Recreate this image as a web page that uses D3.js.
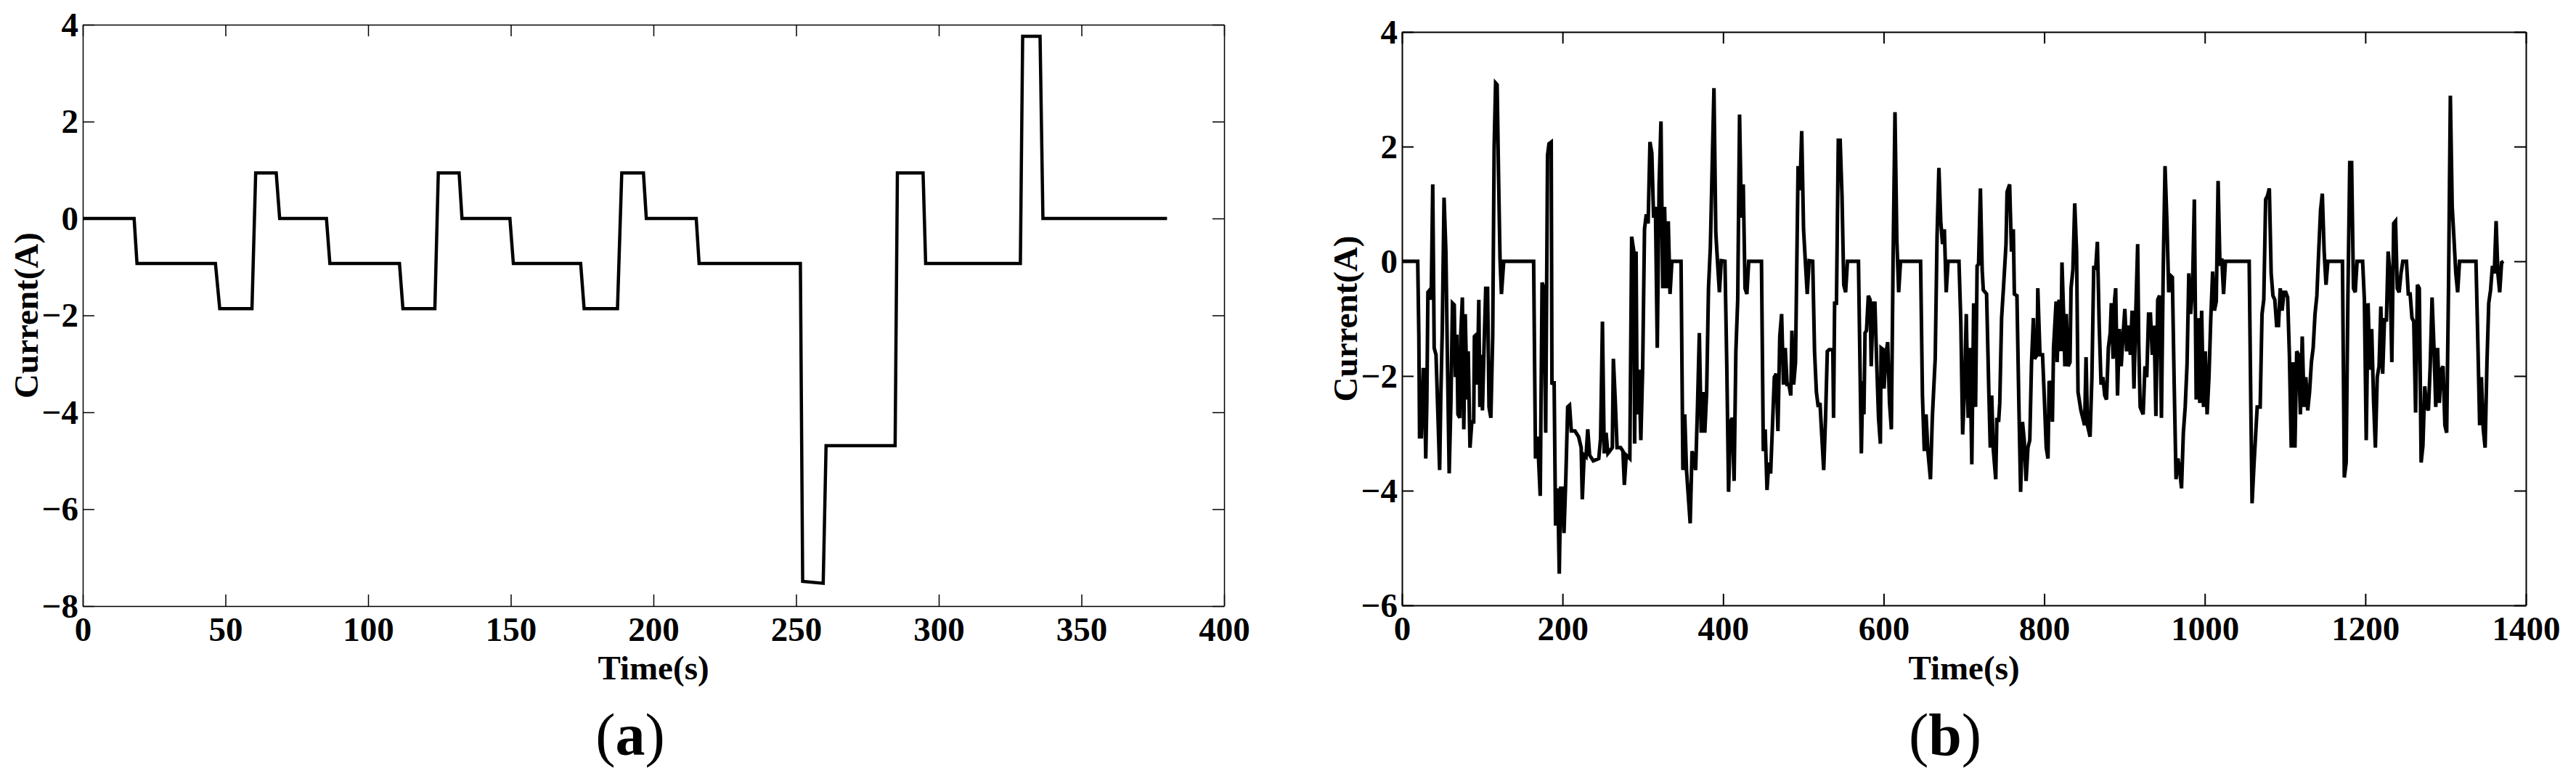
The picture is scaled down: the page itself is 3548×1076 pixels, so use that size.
<!DOCTYPE html>
<html>
<head>
<meta charset="utf-8">
<title>Current profiles</title>
<script src="https://cdnjs.cloudflare.com/ajax/libs/d3/7.8.5/d3.min.js"></script>
<style>
  html, body { margin: 0; padding: 0; background: #fff; }
  svg { display: block; }
  text { font-family: "Liberation Serif", "Times New Roman", serif; }
</style>
</head>
<body>
<svg id="chart" width="3548" height="1076"></svg>
<script>
'use strict';

// panel (a): step current profile
var timeA = [0, 18, 19, 46.5, 48, 59.3, 60.6, 67.8, 69, 85.4, 86.6, 111, 112.2,
    123.4, 124.6, 131.9, 132.9, 149.7, 150.9, 174.5, 175.7, 187.4, 188.9, 196.5,
    197.5, 215, 216, 251.5, 252.3, 259.5, 260.5, 284.7, 285.5, 294.5, 295.4,
    328.6, 329.4, 335.5, 336.5, 380];
var currentA = [0, 0, -0.93, -0.93, -1.86, -1.86, 0.94, 0.94, 0, 0, -0.93, -0.93, -1.86,
    -1.86, 0.94, 0.94, 0, 0, -0.93, -0.93, -1.86, -1.86, 0.94, 0.94,
    0, 0, -0.93, -0.93, -7.49, -7.53, -4.69, -4.69, 0.94, 0.94, -0.93,
    -0.93, 3.76, 3.76, 0, 0];

// panel (b): dynamic current profile
var timeB = [0, 19.6, 21, 21.9, 24.1, 26.4, 27.8, 29.6, 31, 32.3, 34.6, 36.4, 38.3, 40.1,
    42.4, 46.9, 48.3, 50.1, 52.4, 54.7, 56.5, 58.8, 61, 62.9, 65.1, 66.5, 68.3, 69.7,
    72, 73.3, 75.2, 77, 78.8, 81.1, 82.5, 84.7, 87, 89.3, 90.2, 92.5, 93.8, 95.7, 97,
    98.9, 100.2, 102.1, 104.3, 106.6, 108.4, 110.7, 113, 114.8, 116.6, 118.5, 120.3,
    122.1, 123.9, 126.7, 164, 166.3, 168.6, 169.9, 172.2, 174.5, 176.8, 179, 181.3,
    183.1, 185.9, 186.8, 189.5, 191.3, 194.1, 195.9, 197.7, 200, 201.8, 204.1, 206.4,
    208.7, 210.9, 215.5, 220, 223.2, 224.6, 226.9, 229.2, 231.4, 233.7, 238.3, 245.1,
    247.4, 249.7, 251.9, 254.2, 256.5, 258.8, 262, 263.3, 265.6, 267.9, 272.4, 275.2,
    277, 279.3, 283.8, 286.1, 288.8, 289.8, 291.6, 292.9, 295.2, 297.5, 299.8, 302.1,
    304.3, 306.6, 308.9, 311.2, 313.4, 315.7, 318, 320.3, 322.6, 324.8, 327.1, 329.4,
    331.7, 333.9, 336.2, 347.6, 349.9, 352.2, 354.4, 359, 361.3, 363.6, 365.8, 368.1,
    370.4, 372.7, 374.9, 377.2, 379.5, 381.8, 384.1, 386.3, 388.6, 390.9, 393.2, 395.4,
    397.7, 402.3, 404.6, 406.8, 409.1, 411.4, 413.7, 415.9, 418.2, 420.5, 422.8, 425.1,
    427.3, 429.6, 431.9, 447.8, 450.1, 452.4, 454.7, 456.9, 459.2, 461.5, 463.8, 466.1,
    468.3, 470.6, 472.9, 475.2, 477.4, 479.7, 482, 484.3, 485.7, 487.9, 490.2, 492,
    493.4, 495.7, 497.9, 500.2, 502.5, 504.8, 507.1, 511.6, 513.9, 516.2, 518.5, 520.7,
    523, 525.3, 527.6, 529.8, 532.1, 536.7, 537.6, 538.9, 541.2, 543.5, 545.8, 548.1,
    550.3, 552.6, 554.9, 568.6, 570.8, 572.2, 574, 575.4, 576.8, 578.6, 580.9, 583.1,
    584.5, 586.8, 589.1, 591.3, 593.6, 595.9, 596.8, 599.5, 600.5, 602.7, 605, 607.3,
    609.6, 611.8, 614.1, 616.4, 618.7, 621, 646, 648.3, 650.6, 652.8, 655.1, 658.3,
    660.6, 664.2, 666.5, 668.8, 671.1, 673.3, 675.6, 677.9, 680.2, 693.8, 696.1, 698.4,
    700.7, 702.9, 705.2, 707.5, 709.8, 712.1, 714.5, 716.4, 718.2, 720.5, 722.7, 724.1,
    728.2, 731, 732.8, 734.6, 736.4, 739.6, 741, 743.2, 744.6, 746.9, 749.2, 752.4,
    753.7, 756.9, 759.2, 761.5, 762.8, 766, 768.3, 770.6, 772.9, 775.1, 777.4, 779.7,
    782, 784.2, 786.5, 787.9, 791.1, 792, 794.7, 797.9, 800.2, 802.5, 804.7, 806.1,
    808.4, 810.2, 811.6, 814.8, 816.1, 818.4, 820.7, 822.1, 824.3, 825.7, 827.5, 829.8,
    832.1, 833.4, 835.7, 838, 840.3, 842.1, 845.7, 850.3, 852.1, 853.9, 857.1, 859.4,
    861.7, 864, 866.2, 868.5, 870.8, 873.1, 875.4, 877.6, 879.9, 882.2, 883.6, 885.8,
    887.7, 889, 891.3, 893.6, 895.9, 898.1, 900.4, 902.7, 905, 907.3, 909.5, 911.8,
    914.1, 916.4, 917.7, 919.5, 923.2, 925.5, 927.7, 930, 932.3, 934.6, 936.9, 939.1,
    941.4, 943.7, 946, 948.3, 950.5, 952.8, 955.1, 957.4, 959.6, 961.9, 964.2, 966.5,
    968.8, 971, 973.3, 975.6, 977.9, 980.1, 982.4, 984.7, 987, 989.3, 991.5, 993.8,
    996.1, 998.4, 1000.6, 1002.9, 1005.2, 1007.5, 1009.8, 1012, 1014.3, 1016.6, 1018.9,
    1021.2, 1023.4, 1025.7, 1055.3, 1057.6, 1058.9, 1061.2, 1063.5, 1065.3, 1069,
    1071.3, 1073.5, 1075.8, 1078.1, 1080.4, 1082.7, 1084.9, 1087.2, 1089.5, 1091.8,
    1094, 1096.3, 1098.6, 1100.9, 1103.2, 1105.4, 1107.7, 1110, 1112.3, 1114.5, 1116.8,
    1119.1, 1121.4, 1123.7, 1125.9, 1128.2, 1130.5, 1132.8, 1135, 1137.3, 1139.6,
    1141.9, 1144.2, 1146.4, 1148.7, 1151, 1153.3, 1171.5, 1173.8, 1176.1, 1178.3,
    1180.6, 1182.9, 1185.2, 1187.4, 1189.7, 1196.6, 1198.8, 1201.1, 1203.4, 1205.7,
    1207.9, 1210.2, 1212.5, 1214.8, 1217.1, 1219.3, 1221.6, 1223.9, 1226.2, 1228.4,
    1230.7, 1233, 1235.3, 1237.6, 1239.8, 1242.1, 1244.4, 1246.7, 1251.2, 1253.5,
    1255.8, 1258.1, 1260.3, 1262.6, 1264.9, 1267.2, 1269.5, 1271.7, 1274, 1276.3,
    1278.6, 1280.8, 1283.1, 1285.4, 1287.7, 1290, 1292.2, 1294.5, 1296.8, 1299.1,
    1301.3, 1303.6, 1305.9, 1308.2, 1310.5, 1312.7, 1315, 1317.3, 1337.8, 1340.1,
    1342.4, 1344.6, 1346.9, 1349.2, 1351.5, 1353.7, 1356, 1358.3, 1360.6, 1362.9,
    1365.1, 1367.4, 1369.7, 1372];
var currentB = [0, 0, -1.31, -3.06, -3.06, -1.89, -1.89, -3.44, -2.41, -0.54, -0.5, -0.67,
    1.34, -1.51, -1.63, -3.64, -2.41, -1.25, 1.11, 0.17, -1.63, -3.7, -2.41, -0.73,
    -0.76, -2.02, -1.28, -2.67, -2.73, -1.25, -0.63, -2.93, -0.92, -2.41, -1.57, -3.25,
    -2.8, -2.8, -1.31, -1.28, -2.15, -0.67, -2.54, -1.63, -2.6, -1.57, -0.47, -0.47,
    -2.54, -2.73, -1.31, 1.98, 3.11, 3.08, 1.47, 0.05, -0.57, 0, 0, -3.44, -3.06, -3.38,
    -4.09, -0.37, -0.47, -2.99, 1.85, 2.05, 2.08, -2.15, -2.09, -4.61, -3.96, -5.45,
    -3.96, -3.96, -4.74, -3.77, -2.54, -2.51, -2.96, -2.96, -3.06, -3.25, -4.15, -3.38,
    -3.41, -2.93, -3.38, -3.48, -3.44, -3.09, -1.05, -3.35, -2.99, -3.35, -3.31, -3.25,
    -1.7, -2.41, -3.25, -3.25, -3.31, -3.9, -3.38, -3.44, 0.43, 0.17, -3.18, 0.17, -2.67,
    -1.89, -3.12, -1.86, 0.56, 0.82, 0.66, 2.08, 1.89, 0.76, 0.95, -1.51, 1.34, 2.44,
    -0.47, 0.95, -0.47, 0.7, -0.57, 0, 0, -3.64, -2.67, -3.64, -4.57, -3.31, -3.44,
    -3.64, -2.54, -1.25, -2.99, -2.28, -2.99, -2.28, -0.47, 0.24, 1.6, 3.02, 0.5, -0.05,
    -0.54, 0.01, 0, -1.83, -4.02, -2.8, -2.73, -3.83, -1.57, -0.67, 2.56, 0.76, 1.34,
    -0.47, -0.57, 0, 0, -3.31, -2.93, -3.99, -3.51, -3.7, -2.86, -2.02, -1.96, -2.96,
    -1.31, -0.92, -2.15, -1.51, -2.15, -2.15, -2.34, -1.21, -2.15, -1.76, 0.17, 1.66,
    1.24, 2.27, 0.56, -0.02, -0.57, 0.01, 0, -1.57, -2.28, -2.54, -2.47, -3.06, -3.64,
    -2.73, -1.57, -1.54, -1.54, -2.73, -0.73, -0.73, 2.11, 2.11, 1.14, -0.41, -0.54, 0,
    0, -2.09, -3.35, -2.09, -2.67, -1.25, -1.21, -0.6, -0.67, -1.83, -0.73, -0.73,
    -1.76, -2.73, -3.18, -1.51, -1.54, -2.22, -1.63, -1.41, -2.47, -2.93, 0.11, 2.6,
    0.37, -0.54, 0, 0, -2.34, -3.31, -2.67, -3.31, -3.8, -2.73, -1.7, 0.43, 1.63, 0.7,
    0.3, 0.56, -0.54, 0, 0, -1.05, -3.02, -2.22, -0.92, -2.73, -1.51, -3.54, -0.73,
    -2.54, -0.08, -0.05, 1.27, -0.15, -0.5, -0.57, -2.28, -3.25, -2.34, -3.25, -3.8,
    -2.73, -2.8, -2.47, -0.99, -0.47, 0.3, 1.21, 1.34, 0.17, 0.56, -0.57, -0.6, -2.41,
    -4.02, -2.8, -3.12, -3.83, -3.25, -3.12, -1.76, -0.99, -1.7, -1.63, -0.47, -1.63,
    -1.63, -2.41, -3.25, -3.44, -2.09, -2.15, -2.8, -1.51, -0.7, -1.76, -0.67, -1.57,
    -0.02, -0.99, -1.83, -0.92, -1.83, -1.76, -0.47, -0.15, 1.01, 0.17, -2.28, -2.6,
    -2.86, -1.67, -2.86, -3.06, -2.02, -0.08, -0.15, 0.34, -1.12, -2.15, -2.02, -2.34,
    -2.41, -1.51, -1.25, -0.73, -1.7, -0.67, -0.47, -2.34, -1.18, -1.83, -1.31, -0.83,
    -1.57, -1.12, -1.63, -0.86, -2.22, -0.86, 0.3, -1.41, -2.54, -2.67, -1.83, -2.02,
    -0.92, -0.92, -1.63, -1.12, -2.7, -0.67, -0.6, -2.73, -0.08, 1.66, 0.7, -0.54,
    -0.25, -0.28, -2.15, -3.8, -3.44, -3.64, -3.96, -2.99, -2.54, -1.8, -0.21, -0.92,
    -0.47, 1.08, -2.41, -0.99, -2.47, -0.86, -2.54, -1.57, -2.67, -2.02, -0.99, -0.18,
    -0.86, -0.7, 1.4, -0.08, 0.05, -0.57, 0, 0, -2.8, -4.22, -3.57, -2.99, -2.54, -2.54,
    -0.92, -0.67, 1.08, 1.14, 1.27, -0.21, -0.6, -0.67, -1.12, -1.12, -0.47, -0.86,
    -0.54, -0.54, -0.63, -1.63, -3.25, -1.76, -3.25, -1.57, -1.63, -2.67, -1.31, -2.54,
    -2.02, -2.6, -2.28, -1.76, -1.51, -0.92, -0.6, 0.17, 0.89, 1.18, 0.17, -0.41, 0, 0,
    -3.77, -3.51, -0.6, 1.72, 1.72, -0.47, -0.54, 0, 0, -0.67, -3.12, -0.73, -1.89,
    -1.18, -2.41, -3.25, -2.02, -1.83, -0.79, -1.96, -0.99, -1.05, 0.17, -0.21, -1.76,
    0.66, 0.7, -0.47, -0.54, -0.21, 0, 0, -0.57, -0.57, -0.99, -1.05, -2.64, -0.41,
    -0.47, -3.51, -3.22, -2.18, -2.54, -2.6, -1.83, -0.63, -1.47, -2.54, -1.51, -2.47,
    -1.89, -1.83, -2.86, -2.99, -0.47, 2.89, 0.95, 0.37, -0.21, -0.54, 0, 0, -1.38,
    -2.86, -2.02, -2.93, -3.25, -1.76, -0.73, -0.5, -0.08, -0.21, 0.7, -0.21, -0.54,
    -0.02, 0];

var xTicksA = [0, 50, 100, 150, 200, 250, 300, 350, 400];
var yTicksA = [-8, -6, -4, -2, 0, 2, 4];
var xTicksB = [0, 200, 400, 600, 800, 1000, 1200, 1400];
var yTicksB = [-6, -4, -2, 0, 2, 4];

var svg = d3.select('#chart');
svg.append('rect').attr('width', 3548).attr('height', 1076).attr('fill', '#fff');

function drawPanel(p) {
    var x = d3.scaleLinear().domain([p.xTicks[0], p.xTicks[p.xTicks.length - 1]])
        .range([p.left, p.right]);
    var y = d3.scaleLinear().domain([p.yTicks[0], p.yTicks[p.yTicks.length - 1]])
        .range([p.bottom, p.top]);
    var tick = 16;
    var fmt = d3.format('d');

    var g = svg.append('g');

    // axes: ticks point inward on all four sides
    var bottomAxis = g.append('g').attr('transform', 'translate(0,' + p.bottom + ')')
        .call(d3.axisBottom(x).tickValues(p.xTicks).tickFormat(fmt).tickSizeInner(-tick)
            .tickSizeOuter(0).tickPadding(15));
    var leftAxis = g.append('g').attr('transform', 'translate(' + p.left + ',0)')
        .call(d3.axisLeft(y).tickValues(p.yTicks).tickFormat(fmt).tickSizeInner(-tick)
            .tickSizeOuter(0).tickPadding(6));
    var topAxis = g.append('g').attr('transform', 'translate(0,' + p.top + ')')
        .call(d3.axisTop(x).tickValues(p.xTicks).tickSizeInner(-tick)
            .tickSizeOuter(0).tickFormat(''));
    var rightAxis = g.append('g').attr('transform', 'translate(' + p.right + ',0)')
        .call(d3.axisRight(y).tickValues(p.yTicks).tickSizeInner(-tick)
            .tickSizeOuter(0).tickFormat(''));

    [bottomAxis, leftAxis, topAxis, rightAxis].forEach(function(a) {
        a.selectAll('path, line').attr('stroke', '#000').attr('stroke-width', p.axisWidth);
        a.selectAll('text')
            .attr('fill', '#000')
            .style('font-family', '"Liberation Serif", "Times New Roman", serif')
            .style('font-weight', 'bold')
            .style('font-size', '47px');
    });

    var data = p.time.map(function(t, i) {
        return { t: t, v: p.current[i] };
    });
    var line = d3.line()
        .x(function(d) { return x(d.t); })
        .y(function(d) { return y(d.v); });

    g.append('path')
        .datum(data)
        .attr('d', line)
        .attr('fill', 'none')
        .attr('stroke', '#000')
        .attr('stroke-width', p.lineWidth)
        .attr('stroke-linejoin', 'miter')
        .attr('stroke-miterlimit', 3);

    // axis titles
    g.append('text')
        .attr('x', (p.left + p.right) / 2)
        .attr('y', 936)
        .attr('text-anchor', 'middle')
        .style('font-weight', 'bold')
        .style('font-size', '47px')
        .text('Time(s)');

    g.append('text')
        .attr('transform', 'translate(' + p.yLabelX + ',' + (p.top + p.bottom) / 2 + ') rotate(-90)')
        .attr('text-anchor', 'middle')
        .style('font-weight', 'bold')
        .style('font-size', '47px')
        .text('Current(A)');

    // panel letter
    var cap = g.append('text')
        .attr('x', p.captionX)
        .attr('y', 1040)
        .attr('text-anchor', 'middle')
        .style('font-size', '82px');
    cap.append('tspan').text('(');
    cap.append('tspan').style('font-weight', 'bold').text(p.caption);
    cap.append('tspan').text(')');
}

drawPanel({
    time: timeA, current: currentA, xTicks: xTicksA, yTicks: yTicksA,
    left: 114, right: 1686, top: 34, bottom: 835,
    axisWidth: 1.5, lineWidth: 4.5, yLabelX: 52, captionX: 868, caption: 'a'
});

drawPanel({
    time: timeB, current: currentB, xTicks: xTicksB, yTicks: yTicksB,
    left: 1931, right: 3479, top: 44, bottom: 834,
    axisWidth: 2, lineWidth: 5, yLabelX: 1869, captionX: 2679, caption: 'b'
});
</script>
</body>
</html>
